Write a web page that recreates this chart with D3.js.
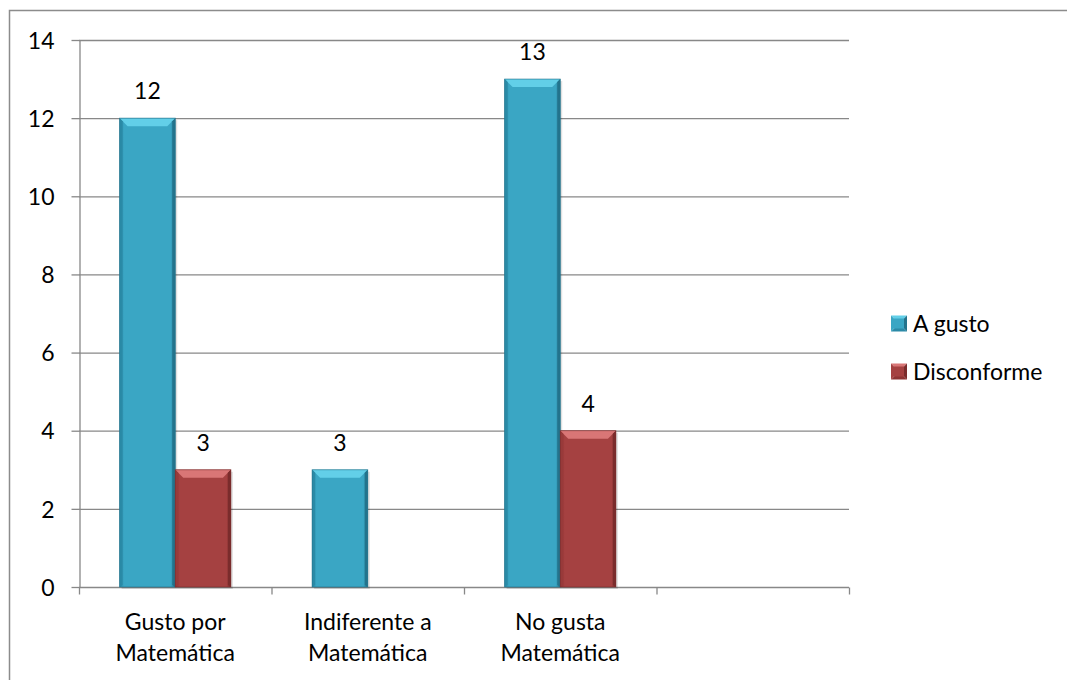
<!DOCTYPE html>
<html><head><meta charset="utf-8">
<script src="https://cdn.jsdelivr.net/npm/d3@7"></script>
<style>body{margin:0;background:#fff}svg{display:block}text{font-family:Lato,"Open Sans",sans-serif;fill:#000;font-size:23px}</style>
</head><body>
<svg id="c" width="1067" height="680"></svg>
<script>
const categories = ["Gusto por|Matemática", "Indiferente a|Matemática", "No gusta|Matemática", ""];
const seriesNames = ["A gusto", "Disconforme"];
const aGusto = [12, 3, 13, null];
const disconforme = [3, null, 4, null];
const yTicks = [0, 2, 4, 6, 8, 10, 12, 14];

const svg = d3.select("#c");
const FS = "23px";
const m = {l: 79, r: 849, t: 40, b: 587};

// outer border
svg.append("rect").attr("x", 9.5).attr("y", 10.5).attr("width", 1100).attr("height", 700)
  .attr("fill", "none").attr("stroke", "#8c8c8c").attr("stroke-width", 1.5);

const defs = svg.append("defs");
function grad(id, stops) {
  const g = defs.append("linearGradient").attr("id", id).attr("x1", 0).attr("x2", 1).attr("y1", 0).attr("y2", 0);
  stops.forEach(s => g.append("stop").attr("offset", s[0]).attr("stop-color", s[1]));
}
grad("gb", [[0, "#2b8aa7"], [0.08, "#3aa6c4"], [0.5, "#3aa6c4"], [0.92, "#3aa6c4"], [1, "#23738c"]]);
grad("gr", [[0, "#8e3434"], [0.08, "#a54141"], [0.5, "#a54141"], [0.92, "#a54141"], [1, "#7a2c2c"]]);
const topCol = ["#62cfe8", "#d97676"];
const sideDark = ["#23738c", "#7a2c2c"];
const botCol = ["#2a8aa6", "#983a3a"];

const y = d3.scaleLinear().domain([0, 14]).range([m.b, m.t]);
const x0 = d3.scaleBand().domain(d3.range(categories.length)).range([m.l, m.r]).padding(0);
const x1 = d3.scaleBand().domain([0, 1]).range([0, x0.bandwidth()]).paddingInner(0).paddingOuter(0.73);

// gridlines
svg.append("g").selectAll("line").data(yTicks.filter(d => d > 0)).join("line")
  .attr("x1", m.l).attr("x2", m.r).attr("y1", d => y(d) + 0.5).attr("y2", d => y(d) + 0.5)
  .attr("stroke", "#888").attr("stroke-width", 1.3);

// y axis
const ya = svg.append("g").attr("transform", `translate(${m.l + 0.5},0)`)
  .call(d3.axisLeft(y).tickValues(yTicks).tickSize(8).tickPadding(17).tickSizeOuter(0));
ya.attr("font-size", null).attr("font-family", null);
ya.select(".domain").attr("stroke", "#888").attr("stroke-width", 1.3);
ya.selectAll(".tick line").attr("stroke", "#888").attr("stroke-width", 1.3);
ya.selectAll("text").style("font-size", FS).attr("fill", "#000").attr("dy", "0.36em");

// x axis
const xa = svg.append("g").attr("transform", `translate(0,${m.b + 0.5})`);
xa.append("line").attr("x1", m.l).attr("x2", m.r).attr("stroke", "#888").attr("stroke-width", 1.3);
const xTickPos = d3.range(categories.length + 1).map(i => i === categories.length ? m.r : x0(i));
xa.selectAll("line.t").data(xTickPos).join("line").attr("class", "t")
  .attr("x1", d => d + 0.5).attr("x2", d => d + 0.5).attr("y1", 0).attr("y2", 7)
  .attr("stroke", "#888").attr("stroke-width", 1.3);
categories.forEach((c, i) => {
  if (!c) return;
  const t = xa.append("text").attr("text-anchor", "middle").style("font-size", FS)
    .attr("transform", `translate(${x0(i) + x0.bandwidth() / 2},0)`);
  c.split("|").forEach((line, k) => t.append("tspan").attr("x", 0).attr("y", 42 + k * 31).text(line));
});

// bars
const series = [aGusto, disconforme];
series.forEach((vals, s) => {
  const g = svg.append("g");
  vals.forEach((v, i) => {
    if (v == null) return;
    const bx = x0(i) + x1(s), bw = x1.bandwidth();
    const by = y(v), bh = y(0) - y(v);
    const bevel = 8;
    g.append("rect").attr("x", bx + 2).attr("y", by + 2).attr("width", bw).attr("height", bh)
      .attr("fill", "#000").attr("opacity", 0.12);
    g.append("rect").attr("x", bx).attr("y", by).attr("width", bw).attr("height", bh)
      .attr("fill", `url(#${s === 0 ? "gb" : "gr"})`);
    g.append("path").attr("d", `M${bx},${by}L${bx + bw},${by}L${bx + bw - bevel},${by + bevel}L${bx + bevel},${by + bevel}Z`)
      .attr("fill", topCol[s]);
    g.append("path").attr("d", `M${bx},${by}L${bx + 3},${by + 3}L${bx + 3},${by + bh - 2}L${bx},${by + bh}Z`)
      .attr("fill", botCol[s]);
    g.append("path").attr("d", `M${bx + bw},${by}L${bx + bw - 3},${by + 3}L${bx + bw - 3},${by + bh - 2}L${bx + bw},${by + bh}Z`)
      .attr("fill", sideDark[s]);
    g.append("rect").attr("x", bx).attr("y", by).attr("width", bw).attr("height", bh)
      .attr("fill", "none").attr("stroke", sideDark[s]).attr("stroke-width", 0.8).attr("opacity", 0.8);
    g.append("text").attr("x", bx + bw / 2).attr("y", by - 19).attr("text-anchor", "middle")
      .style("font-size", FS).text(v);
  });
});

// legend
const lg = svg.append("g");
seriesNames.forEach((n, s) => {
  const ly = 323.5 + s * 48;
  const lx = 891, sz = 16;
  const cols = [["#3aa6c4", "#62cfe8", "#23738c", "#2b8aa7"], ["#a54141", "#d97676", "#7a2c2c", "#8e3434"]][s];
  const cx = lx + sz / 2, cy = ly;
  const x0l = lx, x1l = lx + sz, y0l = ly - sz / 2, y1l = ly + sz / 2;
  lg.append("path").attr("d", `M${x0l},${y0l}L${x1l},${y0l}L${cx},${cy}Z`).attr("fill", cols[1]);
  lg.append("path").attr("d", `M${x1l},${y0l}L${x1l},${y1l}L${cx},${cy}Z`).attr("fill", cols[2]);
  lg.append("path").attr("d", `M${x0l},${y1l}L${x1l},${y1l}L${cx},${cy}Z`).attr("fill", cols[3]);
  lg.append("path").attr("d", `M${x0l},${y0l}L${x0l},${y1l}L${cx},${cy}Z`).attr("fill", cols[0]);
  lg.append("rect").attr("x", lx + 3).attr("y", y0l + 3).attr("width", sz - 6).attr("height", sz - 6).attr("fill", cols[0]);
  lg.append("text").attr("x", lx + 22).attr("y", ly + 8.5).style("font-size", FS).text(n);
});
</script>
</body></html>
